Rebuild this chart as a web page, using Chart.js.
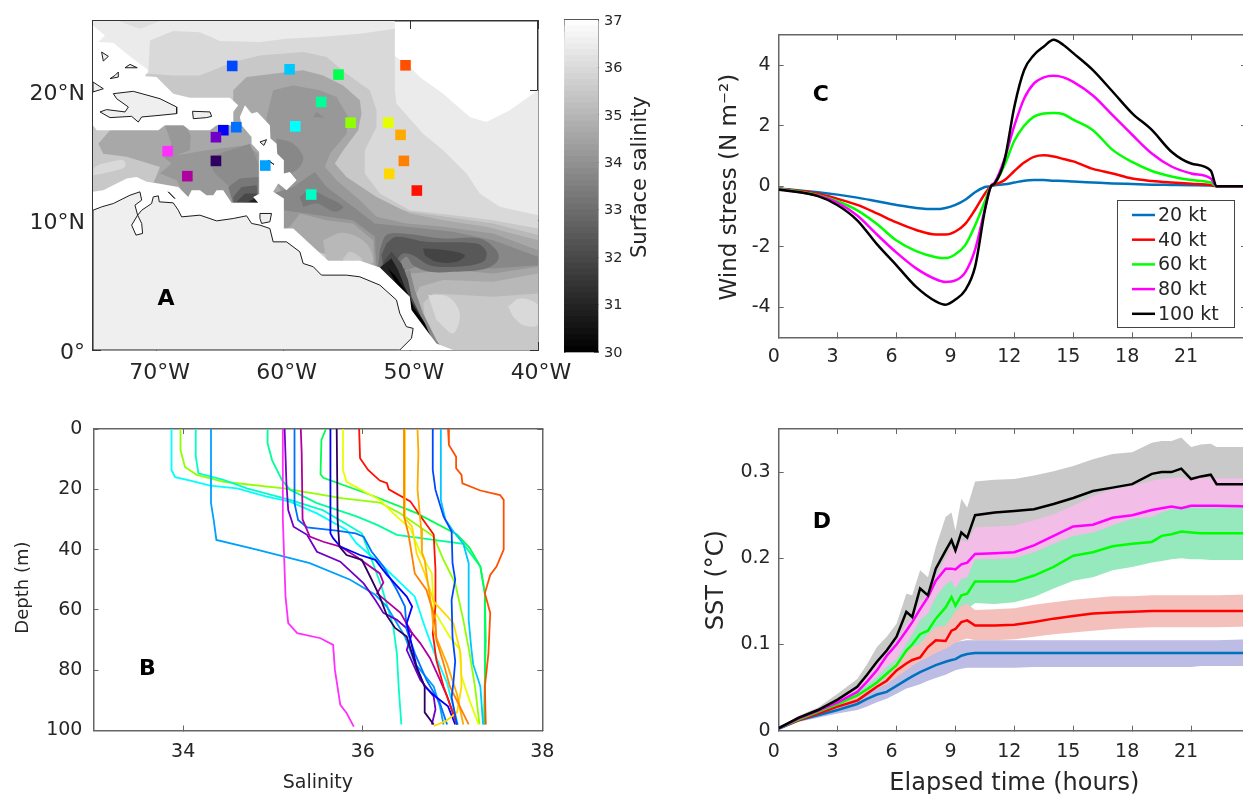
<!DOCTYPE html>
<html>
<head>
<meta charset="utf-8">
<title>Surface salinity, wind stress and SST</title>
<script src="https://cdn.jsdelivr.net/npm/chart.js@4/dist/chart.umd.min.js"></script>
<style>
  html, body { margin: 0; width: 1243px; height: 794px; overflow: hidden; background: #fff; }
  canvas { position: absolute; }
</style>
</head>
<body>
<canvas id="mapChart"></canvas>
<canvas id="barChart"></canvas>
<canvas id="profileChart"></canvas>
<canvas id="stressChart"></canvas>
<canvas id="sstChart"></canvas>
<script>
// ---- Panel A: filled salinity contours, [lon, lat] outlines ----
const contourOuter = [[-75,25.4],[-51.26,25.4],[-51.26,24.4],[-52.05,23.64],[-52.05,23.26],[-50.08,21.85],[-49.3,21.07],[-47.46,19.79],[-45.37,17.99],[-44.06,17.6],[-42.22,18.5],[-40,20.05],[-40,0],[-75,0]];
const contourTopPatch = [[-73,25.4],[-71.3,24.8],[-69.73,25.4]];
const contourLight = [[-75,0],[-75,21.33],[-70.65,21.33],[-70.52,23.9],[-68.69,24.62],[-66.59,24.54],[-65.02,23.85],[-61.87,23.77],[-59.78,24.03],[-57.16,24.16],[-54.01,24.42],[-51.26,24.8],[-51.26,22.87],[-51.26,20.05],[-51.13,19.02],[-49.04,16.7],[-47.46,15.42],[-45.63,13.62],[-44.58,12.08],[-43.01,11.05],[-40,10.41],[-40,0]];
const contourMid = [[-75,0],[-75,21.33],[-70.52,21.33],[-68.69,21.2],[-66.59,21.2],[-63.97,22.23],[-61.87,22.74],[-58.47,23],[-56.63,22.62],[-55.06,21.33],[-53.23,20.05],[-52.7,18.5],[-52.7,17.22],[-53.62,15.42],[-53.62,13.62],[-52.44,12.08],[-50.08,10.79],[-46.68,10.41],[-43.53,10.02],[-40,9.38],[-40,0]];
const patchWest = [[-75,13.49],[-74.84,14.13],[-73.66,14.52],[-72.62,14.64],[-72.49,14.13],[-74.19,13.62]];
const bandOuter = [[-50.08,10.67],[-43.53,9.77],[-40,8.87],[-40,4.37],[-43.53,4.11],[-48.25,4.37],[-49.04,3.6],[-48.77,1.54],[-47.73,0],[-49.82,0],[-51.4,5.65],[-52.7,8.22],[-52.44,11.31]];
const contourCentral = [[-74.58,15.93],[-73.66,16.96],[-69.73,17.35],[-63.97,17.35],[-63.97,20.05],[-62.92,21.07],[-60.83,21.33],[-58.47,21.59],[-56.9,21.2],[-55.32,20.43],[-54.01,19.28],[-53.88,18.25],[-54.14,16.96],[-55.32,15.42],[-55.98,14.39],[-55.06,13.36],[-52.7,11.82],[-50.08,10.54],[-47.46,10.02],[-44.06,9.51],[-40,8.48],[-40,5.91],[-43.53,5.27],[-47.46,5.4],[-49.3,4.88],[-49.82,3.86],[-49.43,1.8],[-48.64,0],[-51.4,0],[-52.7,6.43],[-59.99,8.22],[-61.87,10.79],[-67.11,11.31],[-70.26,12.85],[-69.73,14.13],[-72.35,14.91],[-74.19,15.16]];
const patchSouth = [[-56.9,8.48],[-55.32,9.05],[-53.49,8.22],[-53.1,6.68],[-56.63,6.81]];
const patchSouthInner = [[-55.32,7.07],[-54.8,7.58],[-53.88,7.07],[-53.88,6.68],[-55.32,6.81]];
const blobEast = [[-48.64,4.24],[-47.07,4.11],[-46.15,2.83],[-46.68,1.28],[-47.99,2.31]];
const blobFarEast = [[-42.35,3.34],[-41.43,3.98],[-40,3.47],[-40,1.93],[-41.18,1.93],[-41.96,2.57]];
const contourDeep = [[-61.35,17.99],[-60.83,20.05],[-59.25,20.43],[-57.16,20.05],[-55.85,19.53],[-54.93,17.99],[-55.06,16.7],[-56.37,15.16],[-56.76,14.14],[-55.85,13.11],[-54.01,11.57],[-52.7,10.28],[-50.35,9.77],[-47.46,9.51],[-43.53,9],[-40,7.71],[-40,6.43],[-43.53,5.91],[-46.68,6.17],[-50.08,5.91],[-52.83,6.43],[-52.97,8.48],[-54.54,9.77],[-56.63,10.02],[-58.73,10.54],[-59.52,9.51],[-59.99,9.38],[-59.99,11.82],[-61.35,14.65]];
const contourDeepWest = [[-69.34,17.35],[-67.77,17.35],[-67.32,16.58],[-67.38,15.42],[-68.42,15.03],[-66.07,15.42],[-62.92,15.8],[-62,15.16],[-62,11.31],[-67.51,11.31],[-68.42,13.11],[-69.73,13.62],[-68.82,14.39],[-69.47,14.91],[-68.82,15.93]];
const basinCore = [[-65.8,14.91],[-62.66,15.93],[-62,14.39],[-62,11.31],[-63.97,11.31],[-64.23,12.59],[-65.41,13.62],[-65.8,14.39]];
const basinRing1 = [[-64.36,12.59],[-63.45,13.24],[-62,13.36],[-62,11.31],[-63.97,11.31]];
const basinRing2 = [[-63.97,11.82],[-63.32,12.59],[-62.13,12.72],[-62,11.31],[-63.97,11.31]];
const basinRing3 = [[-63.71,11.44],[-63.05,12.08],[-62.13,12.08],[-62.13,11.31]];
const basinRing4 = [[-62.79,11.44],[-62.27,11.69],[-62,11.36]];
const patchArc = [[-60.56,16.32],[-59.25,15.93],[-58.47,14.91],[-58.73,14.14],[-59.52,13.62],[-60.56,13.62]];
const patchCentre = [[-57.68,17.99],[-56.76,17.94],[-57.42,18.38]];
const plumeOuter = [[-60.83,12.08],[-59.25,12.59],[-57.55,13.75],[-56.63,12.59],[-54.54,11.05],[-52.83,9.77],[-50.35,9.51],[-46.68,9.12],[-43.53,8.48],[-40,7.2],[-40,6.55],[-43.53,6.3],[-46.68,6.43],[-49.56,6.43],[-50.35,6.17],[-51.13,6.3],[-52.7,6.3],[-52.83,8.74],[-54.54,10.02],[-59.99,10.79],[-60.3,11.82]];
const patchTeal = [[-58.73,11.82],[-57.94,12.34],[-56.63,11.82],[-55.32,11.05],[-55.98,10.67],[-57.42,11.31],[-58.47,11.05]];
const plumeMid = [[-52.44,7.71],[-51.92,8.87],[-50.61,9],[-47.46,8.61],[-44.58,8.61],[-43.27,7.71],[-43.14,6.94],[-44.06,6.3],[-46.68,6.04],[-48.51,6.04],[-49.82,6.55],[-50.35,7.2],[-51,6.68],[-51.79,6.37],[-52.57,6.37]];
const plumeInner = [[-51.92,8.22],[-51.13,8.74],[-48.77,8.35],[-44.84,8.22],[-44.06,7.58],[-44.32,6.81],[-46.42,6.43],[-48.51,6.55],[-49.82,7.32],[-50.61,7.45],[-51,7.07],[-51.26,6.43],[-52.05,6.37],[-52.31,7.32]];
const plumeCore = [[-49.04,7.84],[-47.2,7.71],[-45.76,7.32],[-46.42,6.81],[-47.99,6.81],[-48.9,7.32]];
const streak1 = [[-50.08,6.17],[-49.69,4.63],[-49.04,2.83],[-47.99,0.77],[-47.46,0],[-48.51,0],[-51.4,5.65]];
const streak2 = [[-50.48,6.3],[-50.22,4.63],[-49.69,3.08],[-48.64,1.03],[-47.99,0],[-48.77,0],[-52.18,6.17]];
const streak3 = [[-51.52,7.58],[-50.74,6.68],[-50.22,5.4],[-49.95,4.11],[-48.9,1.93],[-48.25,0.51],[-48.77,0.39],[-52.31,6.37],[-52.05,6.94]];
const streak4 = [[-51.52,7.07],[-51,6.17],[-50.48,4.88],[-49.95,3.73],[-49.04,2.31],[-48.2,0.51],[-48.77,1.16],[-49.95,2.96],[-52.44,6.37]];
const streak5 = [[-51.79,6.3],[-51.26,5.78],[-50.08,4.11],[-49.77,3.21],[-48.9,2.06],[-48.38,0.9],[-50.08,3.21]];

// no-data areas
const maskAntilles = [[-75,25.06],[-74.06,24.29],[-74.58,23.77],[-73.4,23.72],[-72.35,22.87],[-70.65,21.59],[-70.91,21.13],[-70,21.07],[-68.69,19.79],[-67.38,19.48],[-64.23,19.48],[-63.58,18.89],[-63.97,18.38],[-63.97,17.35],[-65.28,17.35],[-65.8,16.96],[-67.38,16.96],[-67.9,17.35],[-69.34,17.35],[-69.86,16.96],[-74.71,16.96],[-75,17.35]];
const maskSouth = [[-63.05,18.89],[-62.53,18.25],[-62.08,18.38],[-61.09,17.35],[-61.04,16.32],[-60.56,15.93],[-60.51,15.16],[-59.99,14.65],[-59.99,13.62],[-59.52,13.75],[-58.99,13.11],[-59.78,12.34],[-60.43,12.85],[-60.83,12.21],[-59.99,11.69],[-59.99,9.38],[-59.25,9.38],[-56.5,6.89],[-54.01,6.89],[-52.44,6.37],[-50.08,4.11],[-49.95,3.08],[-47.99,0.51],[-46.68,0],[-75,0],[-75,12.21],[-74.19,12.34],[-73.14,12.85],[-72.35,13.24],[-71.57,13.36],[-70.78,12.98],[-69.86,12.85],[-68.29,12.59],[-67.51,11.82],[-67.24,12.34],[-66.59,12.34],[-66.07,11.95],[-65.54,11.95],[-65.28,12.34],[-64.76,12.34],[-64.1,11.36],[-62,11.36],[-62.4,11.82],[-61.87,12.08],[-61.93,15.29],[-62.53,15.93],[-62.53,16.45],[-63.31,17.35],[-63.45,17.99]];

// coastlines
const landSouthAmerica = [[-75,10.79],[-74.32,11.05],[-73.4,11.31],[-72.09,11.95],[-71.31,12.21],[-71.17,11.57],[-71.7,11.18],[-71.49,10.41],[-71.96,9.64],[-71.62,8.87],[-71.1,9],[-71.17,9.77],[-71.49,10.41],[-71.17,10.79],[-70.39,11.31],[-70.26,11.82],[-69.86,11.9],[-69.79,11.44],[-68.69,11.36],[-68.29,10.79],[-68.03,10.28],[-66.59,10.41],[-65.28,9.97],[-63.97,10.15],[-62.92,10.36],[-62.53,9.77],[-61.87,9.64],[-61.09,9.38],[-60.83,8.35],[-59.78,8.35],[-58.73,7.58],[-58.47,6.68],[-57.68,6.43],[-57.03,5.78],[-55.06,5.78],[-54.01,5.65],[-52.44,5.01],[-51.13,3.86],[-50.87,2.83],[-50.35,1.8],[-49.82,1.67],[-49.95,0.9],[-50.87,0],[-75,0],[-75,10.79]];
const landHispaniola = [[-73.4,19.79],[-71.83,19.97],[-69.73,19.4],[-68.42,18.76],[-68.42,18.25],[-69.73,18.12],[-71.17,17.99],[-71.44,17.6],[-71.96,18.04],[-73.66,17.94],[-74.45,18.38],[-73.93,18.56],[-72.48,18.38],[-72.22,18.76],[-73.14,19.4],[-73.4,19.79]];
const landPuertoRico = [[-67.17,18.43],[-65.8,18.38],[-65.67,18.04],[-66.07,17.94],[-67.11,17.86],[-67.17,18.43]];
const landCuba = [[-75,20.69],[-74.19,20.17],[-75,19.92],[-75,20.69]];
const landCay1 = [[-74.32,23],[-73.79,22.67],[-74.19,22.31],[-74.32,23]];
const landCay2 = [[-72.48,21.79],[-71.52,21.79],[-72.09,22.05],[-72.48,21.79]];
const landCay3 = [[-73.66,20.95],[-73.01,21.07],[-73.01,21.46],[-73.27,21.2],[-73.66,20.95]];
const landTrinidad = [[-61.87,10.54],[-60.96,10.54],[-61.09,9.9],[-61.74,9.77],[-61.87,10.15],[-61.87,10.54]];
const landGuadeloupe = [[-61.87,16.06],[-61.35,16.24],[-61.56,15.8],[-61.87,16.06]];
const landMartinique = [[-61.22,14.65],[-60.77,14.32],[-61.22,14.65]];
const landCuracao = [[-69.08,12.21],[-68.56,11.69],[-69.08,12.21]];

const stationLon = [-64.05,-59.54,-55.69,-50.42,-57.05,-54.74,-51.78,-50.81,-59.09,-63.73,-64.75,-65.33,-69.13,-65.33,-61.45,-50.55,-51.7,-67.58,-57.84,-49.53];
const stationLat = [21.93,21.67,21.26,21.98,19.15,17.55,17.55,16.61,17.27,17.2,16.97,16.43,15.35,14.6,14.24,14.6,13.6,13.42,12,12.31];
const stationColors = ['#0048ff','#00c8ff','#00ff50','#ff5000','#00ff96','#90ff00','#e6ff00','#ffaa00','#00ffff','#0070ff','#0000ff','#7000c8','#ff30ff','#300060','#00a0ff','#ff8000','#ffd800','#b000a0','#00ffc8','#ff1000'];

const colorbarTops = [30.125,30.25,30.375,30.5,30.625,30.75,30.875,31,31.125,31.25,31.375,31.5,31.625,31.75,31.875,32,32.125,32.25,32.375,32.5,32.625,32.75,32.875,33,33.125,33.25,33.375,33.5,33.625,33.75,33.875,34,34.125,34.25,34.375,34.5,34.625,34.75,34.875,35,35.125,35.25,35.375,35.5,35.625,35.75,35.875,36,36.125,36.25,36.375,36.5,36.625,36.75,36.875,37];

// ---- Panel B: salinity profiles ----
const salCyan = [33.87,33.87,33.91,34.08,34.3,34.6,34.93,35.19,35.49,35.82,35.93,36.23,36.58,36.69,36.8,36.94,37.06];
const depCyan = [0,13.6,16,17.1,18.8,19.7,22.4,24.1,28,33.5,37.9,45.6,55.6,65.5,74.4,84.3,98.1];
const salLime = [33.97,33.97,34.02,34.15,34.45,35.12,35.78,36.19,36.42,36.79,36.9,37.03,37.12,37.19,37.25,37.3];
const depLime = [0,7,12.6,15.2,17.5,19.7,23,24.4,28,35.7,43.4,51.2,63.3,74.4,85.4,98];
const salTurquoise = [34.14,34.14,34.17,34.45,34.71,35.19,35.56,35.99,36.1,36.21,36.34,36.38,36.4,36.43];
const depTurquoise = [0,9,14.7,16.9,19.7,23.5,27,34.6,43.4,52.3,65.5,74.4,85.4,98];
const salSky = [34.31,34.31,34.34,34.37,34.82,35.41,35.86,36.14,36.27,36.47,36.58,36.79,36.86,36.9];
const depSky = [0,24.6,30.2,36.8,40,44.5,50,55,59,68.8,77.7,85.4,92,98];
const salSpring = [34.94,34.94,34.99,35.1,35.19,35.49,35.93,36.16,36.38,36.79,37.12,37.31,37.36,37.36];
const depSpring = [0,4.8,10.3,16.9,20.2,24.6,29,31.8,35.1,36.8,38.1,45.6,54.5,98];
const salMagenta = [35.11,35.11,35.14,35.17,35.27,35.53,35.67,35.69,35.75,35.82,35.9];
const depMagenta = [0,30,55.6,64.4,67.7,69.4,71.6,79.9,91.5,94.2,98.7];
const salViolet = [35.13,35.15,35.17,35.23,35.38,35.49,35.75,36.01,36.14,36.23,36.38,36.55,36.49,36.64,36.79,36.81,36.77];
const depViolet = [0,18,26.9,32.4,35.1,40.7,44,51.2,56.7,61,63.3,67.7,73.3,83.2,88.7,93,98];
const salAzure = [35.24,35.24,35.28,35.38,35.71,35.92,36.01,36.1,36.23,36.38,36.47,36.49,36.58,36.71,36.86,36.94];
const depAzure = [0,24.6,30.2,32.6,33.7,34.6,35.7,40.7,45.6,53.4,58.9,66.6,74.4,83.2,91,98];
const salPlum = [35.31,35.32,35.33,35.41,35.56,35.75,35.93,36.19,36.23,36.16,36.42,36.55,36.64,36.75,36.86,36.94,37.05];
const depPlum = [0,8,30,35.7,37.4,39,42.4,47.9,51,54.5,61,67.7,71,76,83.2,88.7,98];
const salGreen = [35.59,35.54,35.53,35.56,36.04,36.6,37.05,37.19,37.31,37.36,37.37,37.35];
const depGreen = [0,3.6,15,16.2,21.3,27.9,35,39.4,45.6,54.5,70,98];
const salBlue = [35.64,35.64,35.67,35.75,35.97,36.14,36.27,36.49,36.55,36.49,36.6,36.69,36.82,36.95,37.03];
const depBlue = [0,34.6,36.2,39,41.8,43.4,48.4,55.6,58.9,64.4,78.8,85.4,89,92,98];
const salIndigo = [35.71,35.72,35.74,35.82,35.99,36.1,36.19,36.27,36.36,36.49,36.6,36.69,36.69,36.79];
const depIndigo = [0,30,39,41.8,43.4,50,55.6,62,66,68.8,79.3,85.4,94,98];
const salYellow = [35.78,35.78,35.82,36.19,36.34,36.53,36.64,36.77,36.79,36.97,37.08,37.1,37.19,37.29];
const depYellow = [0,13.6,17.5,23.5,28,33,41,47.9,60,69,73,82,90,98];
const salRed = [35.96,35.97,36.06,36.19,36.27,36.29,36.53,36.66,36.79,36.81,36.81,36.78,36.82,36.9,37.05];
const depRed = [0,9.7,13.6,17.1,18,20,24,29.6,35,46.7,58.9,67.7,76.6,85.4,98];
const salOrange = [36.46,36.46,36.51,36.58,36.71,36.81,36.82,36.9,36.97,37.18];
const depOrange = [0,29,35,47.9,53.4,63.3,70,77.7,85.4,98];
const salGold = [36.47,36.47,36.55,36.6,36.69,36.79,37.01,37.09,37.1,37.05,36.92,36.79];
const depGold = [0,29.6,32.4,41.2,47.9,57.2,64.4,74.4,85.4,94,97,98.5];
const salAmber = [36.61,36.62,36.61,36.65,36.66,36.69,36.73,36.77,36.79,36.94,37.05,37.12];
const depAmber = [0,8,20,33,41,43.4,52,60,67,78,88,98];
const salCapri = [36.87,36.87,36.92,37.01,37.12,37.18,37.18,37.21,37.23,37.31,37.34];
const depCapri = [0,23.5,30,34,38,44.5,63.3,73,78,85.4,98];
const salCobalt = [36.78,36.78,36.81,36.9,36.99,37,37.03,36.99,37,37.03,37.01,36.99,37.05];
const depCobalt = [0,13.6,20.2,29,34,44.5,50,56.7,69,77,84,89,98];
const salEmber = [36.95,36.96,37.04,37.04,37.1,37.11,37.31,37.53,37.57,37.57,37.49,37.42,37.36,37.42,37.4,37.36,37.37];
const depEmber = [0,5.3,9.2,13,15.2,18,20.4,21.9,23.5,40,45.6,48.4,54.5,61,74.4,85.4,98];

const profiles = [
  [salCyan, depCyan, '#00ffff'], [salLime, depLime, '#90ff00'], [salTurquoise, depTurquoise, '#00ffc8'],
  [salSky, depSky, '#00a0ff'], [salSpring, depSpring, '#00ff96'], [salMagenta, depMagenta, '#ff30ff'],
  [salViolet, depViolet, '#7000c8'], [salAzure, depAzure, '#0070ff'], [salPlum, depPlum, '#b000a0'],
  [salGreen, depGreen, '#00ff50'], [salBlue, depBlue, '#0000ff'], [salIndigo, depIndigo, '#300060'],
  [salYellow, depYellow, '#e6ff00'], [salRed, depRed, '#ff1000'], [salGold, depGold, '#ffd800'],
  [salAmber, depAmber, '#ffaa00'], [salOrange, depOrange, '#ff8000'], [salCapri, depCapri, '#00c8ff'],
  [salCobalt, depCobalt, '#0048ff'], [salEmber, depEmber, '#ff5000']
];

// ---- Panel C: wind stress ----
const timeStress = [0,2,3,4,5,6,7,8,8.5,9,9.5,10,10.5,10.8,11,11.5,12,12.5,13,13.5,14,14.5,15,16,17,18,19,20,21,22,22.3,24];
const stress20 = [-0.08,-0.2,-0.28,-0.38,-0.5,-0.62,-0.72,-0.76,-0.72,-0.62,-0.45,-0.2,-0.03,0,0.03,0.06,0.12,0.18,0.2,0.2,0.18,0.17,0.15,0.12,0.09,0.07,0.05,0.04,0.03,0.02,0,0];
const stress40 = [-0.08,-0.25,-0.42,-0.62,-0.9,-1.2,-1.45,-1.6,-1.6,-1.5,-1.25,-0.78,-0.25,0,0.05,0.2,0.5,0.78,0.97,1.02,0.98,0.9,0.82,0.57,0.42,0.25,0.17,0.12,0.08,0.04,0,0];
const stress60 = [-0.08,-0.3,-0.5,-0.8,-1.25,-1.8,-2.15,-2.35,-2.38,-2.25,-1.95,-1.3,-0.5,0,0.08,0.7,1.5,2,2.3,2.4,2.42,2.38,2.2,1.85,1.2,0.8,0.5,0.32,0.2,0.12,0,0];
const stress80 = [-0.1,-0.32,-0.55,-0.97,-1.6,-2.2,-2.72,-3.08,-3.17,-3.12,-2.85,-2.1,-0.75,0,0.12,0.9,2,2.9,3.4,3.6,3.65,3.6,3.45,3,2.35,1.7,1.08,0.65,0.42,0.25,0,0];
const stress100 = [-0.11,-0.33,-0.63,-1.13,-1.92,-2.62,-3.33,-3.81,-3.92,-3.75,-3.44,-2.67,-0.8,-0.02,0.09,0.86,2.63,3.84,4.34,4.62,4.84,4.67,4.4,3.84,3.13,2.41,1.86,1.14,0.75,0.51,0,0];
const stressLabels = ['20 kt','40 kt','60 kt','80 kt','100 kt'];

// ---- Panel D: SST change ----
const timeSst = [0,1,2,3,4,4.5,5,5.5,6,6.5,6.8,7.2,7.6,8,8.5,8.8,9,9.3,9.6,10,11,12,13,14,15,16,17,18,19,19.5,20,20.5,21,21.5,22,22.3,24];
const sst100 = [.003,.015,.024,.036,.051,.065,.08,.093,.109,.138,.132,.165,.157,.188,.209,.221,.209,.23,.224,.25,.253,.255,.257,.263,.27,.278,.282,.286,.298,.3,.3,.304,.292,.295,.297,.286,.286];
const sst80 = [.003,.014,.023,.033,.045,.057,.07,.087,.1,.116,.126,.141,.155,.174,.188,.188,.187,.193,.195,.205,.206,.207,.215,.226,.237,.239,.247,.25,.256,.258,.26,.258,.261,.261,.261,.261,.26];
const sst60 = [.003,.013,.022,.031,.041,.048,.056,.066,.076,.093,.1,.112,.116,.13,.143,.155,.145,.157,.159,.173,.173,.173,.18,.19,.203,.207,.214,.217,.219,.226,.228,.231,.23,.229,.229,.229,.229];
const sst40 = [.003,.012,.02,.028,.035,.043,.051,.058,.07,.078,.082,.085,.097,.105,.104,.116,.118,.126,.128,.122,.122,.123,.126,.13,.133,.136,.137,.138,.139,.139,.139,.139,.139,.139,.139,.139,.139];
const sst20 = [.002,.012,.018,.024,.031,.037,.042,.045,.052,.059,.063,.068,.072,.076,.08,.082,.083,.087,.089,.09,.09,.09,.09,.09,.09,.09,.09,.09,.09,.09,.09,.09,.09,.09,.09,.09,.09];
const upper100 = [.003,.017,.027,.043,.06,.077,.097,.109,.124,.159,.157,.186,.178,.213,.248,.253,.232,.269,.259,.289,.291,.292,.296,.301,.307,.315,.321,.323,.334,.336,.336,.34,.329,.332,.333,.329,.329];
const upper80 = [.003,.015,.024,.035,.049,.062,.076,.089,.103,.124,.128,.151,.155,.178,.201,.213,.205,.221,.219,.236,.237,.238,.244,.251,.261,.272,.28,.284,.29,.292,.293,.294,.291,.293,.293,.293,.293];
const upper60 = [.003,.014,.023,.033,.045,.053,.062,.074,.083,.101,.112,.128,.136,.155,.17,.174,.165,.176,.178,.199,.199,.2,.207,.217,.226,.23,.238,.246,.248,.253,.257,.259,.259,.259,.259,.259,.258];
const lower60 = [.003,.013,.021,.029,.037,.044,.051,.056,.066,.08,.083,.087,.093,.105,.118,.124,.124,.132,.141,.148,.147,.149,.155,.165,.174,.178,.186,.19,.195,.197,.199,.2,.199,.199,.198,.198,.198];
const upper40 = [.003,.013,.021,.03,.039,.048,.058,.068,.08,.091,.097,.101,.112,.12,.122,.132,.138,.145,.147,.14,.141,.142,.146,.149,.152,.154,.156,.156,.157,.157,.157,.157,.157,.157,.157,.157,.158];
const lower40 = [.002,.011,.016,.023,.028,.034,.041,.049,.058,.062,.066,.07,.08,.087,.091,.097,.101,.105,.107,.105,.105,.106,.109,.112,.114,.116,.118,.119,.12,.12,.12,.12,.12,.12,.12,.12,.121];
const upper20 = [.003,.013,.02,.028,.036,.042,.049,.054,.062,.07,.075,.081,.085,.09,.095,.099,.102,.104,.105,.105,.105,.105,.105,.105,.105,.105,.105,.105,.105,.105,.105,.105,.105,.105,.105,.105,.106];
const lower20 = [.001,.01,.015,.02,.024,.028,.033,.037,.043,.049,.051,.054,.058,.061,.065,.068,.07,.072,.073,.073,.073,.073,.074,.074,.074,.074,.074,.074,.074,.074,.074,.074,.074,.075,.075,.075,.075];

// ---- ticks ----
const lonTicks = [-70,-60,-50,-40];
const latTicks = [0,10,20];
const colorbarTicks = [30,31,32,33,34,35,36,37];
const profileSalTicks = [34,36,38];
const profileDepthTicks = [0,20,40,60,80,100];
const hourTicks = [0,3,6,9,12,15,18,21];
const stressTicks = [-4,-2,0,2,4];
const sstTicks = [0,0.1,0.2,0.3];

Chart.defaults.font.family = '"DejaVu Sans"';
Chart.defaults.color = '#262626';
Chart.defaults.animation = false;
Chart.defaults.events = [];
Chart.defaults.plugins.legend.display = false;
Chart.defaults.plugins.tooltip.enabled = false;
Chart.defaults.elements.point.radius = 0;

// panel letter, anchored in data units
Chart.register({
  id: 'panelLetter',
  afterDatasetsDraw(chart, args, opts) {
    if (!opts.text) return;
    const ctx = chart.ctx;
    ctx.save();
    ctx.font = 'bold 22px "DejaVu Sans"';
    ctx.fillStyle = '#000';
    ctx.textAlign = 'center';
    ctx.textBaseline = 'middle';
    ctx.fillText(opts.text, chart.scales.x.getPixelForValue(opts.x), chart.scales.y.getPixelForValue(opts.y));
    ctx.restore();
  }
});

// rotated y title; reads bottom to top, offset from the plot edge
function sideTitle(text, edge, dx, yValue, size) {
  return {
    id: 'sideTitle',
    afterDraw(chart) {
      const ctx = chart.ctx;
      ctx.save();
      ctx.translate(chart.chartArea[edge] + dx, chart.scales.y.getPixelForValue(yValue));
      ctx.rotate(-Math.PI / 2);
      ctx.font = size + 'px "DejaVu Sans"';
      ctx.fillStyle = '#262626';
      ctx.textAlign = 'center';
      ctx.textBaseline = 'middle';
      ctx.fillText(text, 0, 0);
      ctx.restore();
    }
  };
}

function frameAxis(position, min, max, tickValues, pad, look, extra) {
  const horizontal = position === 'top' || position === 'bottom';
  return Object.assign({
    type: 'linear',
    position: position,
    min: min,
    max: max,
    afterBuildTicks: s => { s.ticks = tickValues.map(v => ({ value: v })); },
    afterFit: s => {
      if (horizontal) s.height = pad; else s.width = pad;
      s.paddingLeft = s.paddingRight = s.paddingTop = s.paddingBottom = 0;
    },
    grid: { drawOnChartArea: false, tickLength: -(look.tick), tickColor: look.color, tickWidth: 1 },
    border: { color: look.color, width: look.width },
    ticks: { display: false }
  }, extra || {});
}

function labelled(size, padding, cb, labelOffset) {
  return {
    display: true, autoSkip: false, maxRotation: 0, minRotation: 0,
    font: { size: size }, padding: padding, labelOffset: labelOffset || 0,
    callback: cb || (v => String(v))
  };
}

function place(id, left, top, width, height) {
  const c = document.getElementById(id);
  c.style.left = left + 'px';
  c.style.top = top + 'px';
  c.width = width;
  c.height = height;
  return c;
}

function common(letter, scales) {
  return {
    responsive: false,
    devicePixelRatio: 1,
    layout: { padding: 0, autoPadding: false },
    plugins: { panelLetter: letter },
    scales: scales
  };
}

const toPoints = outline => outline.map(p => ({ x: p[0], y: p[1] }));
const pair = (xs, ys) => xs.map((x, i) => ({ x: x, y: ys[i] }));

// Panel A: [outline, colour, curve the outline]
const mapFills = [
  [contourOuter, '#ebebeb'], [contourTopPatch, '#dedede'], [contourLight, '#d9d9d9'], [contourMid, '#c8c8c8'],
  [patchWest, '#d9d9d9', true], [bandOuter, '#b8b8b8'], [contourCentral, '#a8a8a8'], [patchSouth, '#b8b8b8', true],
  [patchSouthInner, '#c8c8c8', true], [blobEast, '#d9d9d9', true], [blobFarEast, '#d9d9d9', true], [contourDeep, '#989898'],
  [contourDeepWest, '#989898'], [basinCore, '#8c8c8c'], [basinRing1, '#787878'], [basinRing2, '#606060'],
  [basinRing3, '#484848'], [basinRing4, '#202020'], [patchArc, '#888888', true], [patchCentre, '#8c8c8c'],
  [plumeOuter, '#888888'], [patchTeal, '#787878', true], [plumeMid, '#707070', true], [plumeInner, '#585858', true],
  [plumeCore, '#444444', true], [streak1, '#888888'], [streak2, '#686868'], [streak3, '#484848'],
  [streak4, '#202020'], [streak5, '#000000'], [maskAntilles, '#ffffff'], [maskSouth, '#ffffff']
];
const mapLand = [landSouthAmerica, landHispaniola, landPuertoRico, landCuba, landCay1, landCay2, landCay3, landTrinidad, landGuadeloupe, landMartinique, landCuracao];

const mapDatasets = [];
mapFills.forEach(f => mapDatasets.push({ data: toPoints(f[0]), showLine: true, fill: 'shape', backgroundColor: f[1], borderWidth: 0, tension: f[2] ? 0.35 : 0 }));
mapLand.forEach(l => mapDatasets.push({ data: toPoints(l), showLine: true, fill: 'shape', backgroundColor: '#efefef', borderColor: '#1c1c1c', borderWidth: 1 }));
mapDatasets.forEach((d, i) => { d.order = mapDatasets.length - i + 1; });
mapDatasets.push({
  data: pair(stationLon, stationLat), showLine: false, order: 0,
  pointStyle: 'rect', pointRadius: 7.5, pointBackgroundColor: stationColors, pointBorderWidth: 0
});

const mapLook = { tick: 8, color: '#333333', width: 1.5 };
const degLon = v => Math.abs(v) + '°W';
const degLat = v => v === 0 ? '0°' : v + '°N';
new Chart(place('mapChart', 0, 0, 590, 400), {
  type: 'scatter',
  data: { datasets: mapDatasets },
  options: common({ text: 'A', x: -69.26, y: 3.93 }, {
    x: frameAxis('bottom', -75, -40, lonTicks, 50, mapLook, { ticks: labelled(22, 18, degLon, 3) }),
    y: frameAxis('left', 0, 25.4, latTicks, 93, mapLook, { ticks: labelled(22, 16, degLat, 3) }),
    x2: frameAxis('top', -75, -40, lonTicks, 21, mapLook),
    y2: frameAxis('right', 0, 25.4, latTicks, 52, mapLook)
  })
});

// Colorbar
const barLook = { tick: 4, color: '#555555', width: 1.5 };
new Chart(place('barChart', 555, 0, 110, 380), {
  type: 'bar',
  data: {
    labels: [''],
    datasets: colorbarTops.map(top => {
      const g = Math.round((top - 30.06) / 7 * 255);
      return { data: [[30, top]], backgroundColor: 'rgb(' + g + ',' + g + ',' + g + ')', barPercentage: 1, categoryPercentage: 1, grouped: false };
    })
  },
  options: common({}, {
    x: { type: 'category', position: 'bottom', afterFit: s => { s.height = 28; }, ticks: { display: false }, grid: { display: false }, border: { color: barLook.color, width: barLook.width } },
    y: frameAxis('right', 30, 37, colorbarTicks, 67, barLook, { ticks: labelled(14.5, 10, null, 1) }),
    x2: frameAxis('top', 0, 1, [], 20, barLook),
    y2: frameAxis('left', 30, 37, [], 9.5, barLook)
  }),
  plugins: [sideTitle('Surface salinity', 'right', 43, 33.69, 21)]
});

// Panel B
const grayLook = { tick: 5, color: '#666666', width: 1.5 };
new Chart(place('profileChart', 0, 410, 560, 384), {
  type: 'scatter',
  data: { datasets: profiles.map((p, i) => ({ data: pair(p[0], p[1]), showLine: true, borderColor: p[2], borderWidth: 1.8, order: profiles.length - i })) },
  options: common({ text: 'B', x: 33.6, y: 79.8 }, {
    x: frameAxis('bottom', 33, 38, profileSalTicks, 63.5, grayLook, {
      ticks: labelled(19, 15),
      title: { display: true, text: 'Salinity', font: { size: 19 }, padding: 0 }
    }),
    y: frameAxis('left', 0, 100, profileDepthTicks, 93.4, grayLook, { reverse: true, ticks: labelled(19, 16) }),
    x2: frameAxis('top', 33, 38, profileSalTicks, 19, grayLook),
    y2: frameAxis('right', 0, 100, profileDepthTicks, 17.7, grayLook, { reverse: true })
  }),
  plugins: [sideTitle('Depth (m)', 'left', -70.4, 52.6, 18)]
});

// Panel C
const stressSeries = [stress20, stress40, stress60, stress80, stress100];
const stressColors = ['#0072bd', '#ff0000', '#00ff00', '#ff00ff', '#000000'];
new Chart(place('stressChart', 700, 15, 560, 370), {
  type: 'scatter',
  data: {
    datasets: stressSeries.map((s, i) => ({
      label: stressLabels[i], data: pair(timeStress, s), showLine: true, cubicInterpolationMode: 'monotone',
      borderColor: stressColors[i], borderWidth: 2.5, order: stressSeries.length - i
    }))
  },
  options: common({ text: 'C', x: 2.15, y: 3.01 }, {
    x: frameAxis('bottom', 0, 24, hourTicks, 47.7, grayLook, { ticks: labelled(19, 13, null, -5) }),
    y: frameAxis('left', -5, 5, stressTicks, 78.7, grayLook, { ticks: labelled(19, 13) }),
    x2: frameAxis('top', 0, 24, hourTicks, 20, grayLook),
    y2: frameAxis('right', -5, 5, stressTicks, 10, { tick: 9, color: '#666666', width: 1.5 })
  }),
  plugins: [sideTitle('Wind stress (N m⁻²)', 'left', -49, -0.03, 23), {
    id: 'stressLegend',
    afterDatasetsDraw(chart) {
      const ctx = chart.ctx;
      ctx.save();
      const left = 417, top = 185, w = 117, h = 127;
      ctx.fillStyle = '#fff';
      ctx.fillRect(left, top, w, h);
      ctx.strokeStyle = '#444';
      ctx.lineWidth = 1;
      ctx.strokeRect(left + 0.5, top + 0.5, w, h);
      ctx.font = '19px "DejaVu Sans"';
      ctx.textBaseline = 'middle';
      chart.data.datasets.forEach((d, i) => {
        const y = top + 15 + i * 24.7;
        ctx.strokeStyle = d.borderColor;
        ctx.lineWidth = 2.5;
        ctx.beginPath();
        ctx.moveTo(left + 15, y);
        ctx.lineTo(left + 38, y);
        ctx.stroke();
        ctx.fillStyle = '#262626';
        ctx.fillText(d.label, left + 41, y + 1);
      });
      ctx.restore();
    }
  }]
});

// Panel D
const bandStyle = { showLine: true, borderWidth: 0 };
const sstLine = (ys, color, order) => ({ data: pair(timeSst, ys), showLine: true, borderColor: color, borderWidth: 2.5, order: order });
new Chart(place('sstChart', 700, 410, 560, 388), {
  type: 'scatter',
  data: {
    datasets: [
      sstLine(sst100, '#000000', 0),
      sstLine(sst80, '#ff00ff', 1),
      sstLine(sst60, '#00ff00', 2),
      sstLine(sst40, '#ff0000', 3),
      sstLine(sst20, '#0072bd', 4),
      Object.assign({ data: pair(timeSst, upper100), fill: 1, backgroundColor: '#c9c9c9', order: 14 }, bandStyle),
      Object.assign({ data: pair(timeSst, upper80), fill: 2, backgroundColor: '#f2bde6', order: 13 }, bandStyle),
      Object.assign({ data: pair(timeSst, upper60), fill: 8, backgroundColor: '#96e8bd', order: 12 }, bandStyle),
      Object.assign({ data: pair(timeSst, lower60), order: 12.5 }, bandStyle),
      Object.assign({ data: pair(timeSst, upper40), fill: 10, backgroundColor: '#f4c0bc', order: 11 }, bandStyle),
      Object.assign({ data: pair(timeSst, lower40), order: 11.5 }, bandStyle),
      Object.assign({ data: pair(timeSst, upper20), fill: 12, backgroundColor: '#bcbce4', order: 10 }, bandStyle),
      Object.assign({ data: pair(timeSst, lower20), order: 10.5 }, bandStyle)
    ]
  },
  options: common({ text: 'D', x: 2.2, y: 0.242 }, {
    x: frameAxis('bottom', 0, 24, hourTicks, 67.3, grayLook, {
      ticks: labelled(19, 15, null, -5),
      title: { display: true, text: 'Elapsed time (hours)', font: { size: 24 }, padding: 0 }
    }),
    y: frameAxis('left', 0, 0.35, sstTicks, 78.7, grayLook, { ticks: labelled(19, 13) }),
    x2: frameAxis('top', 0, 24, hourTicks, 19, grayLook),
    y2: frameAxis('right', 0, 0.35, sstTicks, 10, grayLook)
  }),
  plugins: [sideTitle('SST (°C)', 'left', -62, 0.1746, 24)]
});
</script>
</body>
</html>
